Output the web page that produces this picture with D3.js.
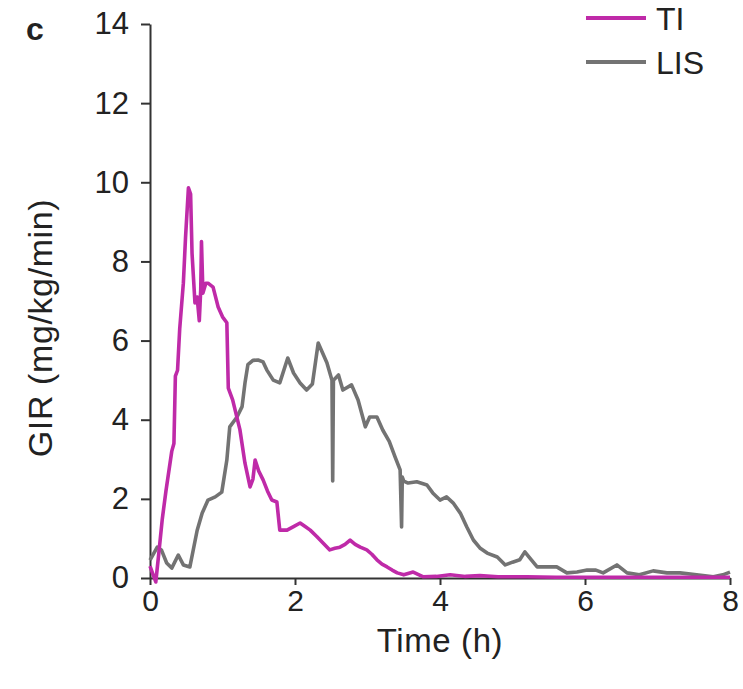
<!DOCTYPE html>
<html>
<head>
<meta charset="utf-8">
<script src="https://cdn.jsdelivr.net/npm/d3@7"></script>
<style>
  body { margin: 0; background: #fff; }
  text { font-family: "Liberation Sans", Arial, sans-serif; fill: #222; }
  .axis path, .axis line { stroke: #333; stroke-width: 2; }
</style>
</head>
<body>
<div id="chart"></div>
<script>
// Time (h) and GIR (mg/kg/min)
const tiTime = [0, 0.04, 0.08, 0.12, 0.17, 0.22, 0.3, 0.33, 0.35, 0.38, 0.41, 0.46, 0.49, 0.53, 0.56, 0.58, 0.62, 0.65, 0.68, 0.7, 0.71, 0.73, 0.77, 0.8, 0.87, 0.94, 1.0, 1.06, 1.08, 1.14, 1.24, 1.31, 1.38, 1.42, 1.45, 1.5, 1.56, 1.62, 1.68, 1.75, 1.79, 1.89, 1.98, 2.07, 2.14, 2.21, 2.3, 2.39, 2.48, 2.55, 2.62, 2.69, 2.76, 2.83, 2.9, 2.99, 3.06, 3.13, 3.2, 3.27, 3.34, 3.41, 3.5, 3.63, 3.77, 3.95, 4.14, 4.35, 4.55, 4.8, 5.2, 5.6, 6.0, 6.5, 7.0, 7.5, 8.0];
const tiGir  = [0.3, 0.1, -0.1, 0.6, 1.5, 2.2, 3.2, 3.4, 5.1, 5.25, 6.3, 7.45, 8.6, 9.86, 9.7, 8.2, 6.95, 7.1, 6.5, 7.3, 8.5, 7.2, 7.45, 7.45, 7.35, 6.85, 6.6, 6.45, 4.8, 4.5, 3.75, 2.9, 2.3, 2.5, 2.98, 2.7, 2.48, 2.2, 1.97, 1.92, 1.21, 1.21, 1.3, 1.39, 1.3, 1.21, 1.05, 0.88, 0.71, 0.75, 0.78, 0.85, 0.96, 0.85, 0.78, 0.71, 0.6, 0.46, 0.35, 0.28, 0.2, 0.13, 0.08, 0.15, 0.03, 0.04, 0.08, 0.04, 0.06, 0.03, 0.03, 0.02, 0.02, 0.02, 0.02, 0.02, 0.02];

const lisTime = [0, 0.1, 0.16, 0.23, 0.3, 0.39, 0.46, 0.55, 0.65, 0.72, 0.8, 0.9, 0.99, 1.06, 1.1, 1.2, 1.27, 1.31, 1.35, 1.42, 1.49, 1.56, 1.61, 1.7, 1.79, 1.9, 1.98, 2.07, 2.16, 2.24, 2.32, 2.44, 2.51, 2.52, 2.53, 2.6, 2.66, 2.78, 2.87, 2.97, 3.03, 3.13, 3.21, 3.3, 3.38, 3.45, 3.47, 3.48, 3.5, 3.56, 3.68, 3.82, 3.9, 4.0, 4.09, 4.18, 4.28, 4.37, 4.46, 4.55, 4.65, 4.79, 4.9, 5.0, 5.1, 5.17, 5.24, 5.34, 5.48, 5.61, 5.75, 5.89, 6.03, 6.15, 6.25, 6.44, 6.58, 6.75, 6.94, 7.13, 7.31, 7.54, 7.77, 7.9, 8.0];
const lisGir  = [0.45, 0.78, 0.7, 0.38, 0.25, 0.58, 0.33, 0.28, 1.2, 1.64, 1.97, 2.05, 2.17, 2.98, 3.82, 4.07, 4.33, 4.93, 5.39, 5.5, 5.51, 5.46, 5.26, 5.0, 4.93, 5.56, 5.18, 4.93, 4.75, 4.9, 5.94, 5.44, 5.0, 2.45, 5.0, 5.13, 4.75, 4.88, 4.5, 3.82, 4.07, 4.07, 3.74, 3.45, 3.06, 2.73, 1.29, 2.55, 2.45, 2.4, 2.43, 2.35, 2.15, 1.97, 2.05, 1.9, 1.64, 1.29, 0.96, 0.76, 0.63, 0.53, 0.33, 0.4, 0.46, 0.66, 0.5, 0.28, 0.28, 0.28, 0.13, 0.15, 0.2, 0.2, 0.13, 0.33, 0.13, 0.08, 0.18, 0.13, 0.13, 0.08, 0.03, 0.08, 0.15];

const xTicks = [0, 2, 4, 6, 8];
const yTicks = [0, 2, 4, 6, 8, 10, 12, 14];
const seriesNames = ["TI", "LIS"];
const seriesColors = ["#bf2aa8", "#737373"];

const width = 743, height = 689;
const margin = {top: 24, right: 13, bottom: 111, left: 150};

const svg = d3.select("#chart").append("svg")
	.attr("width", width)
	.attr("height", height);

const x = d3.scaleLinear().domain([0, 8]).range([margin.left, width - margin.right]);
const y = d3.scaleLinear().domain([0, 14]).range([height - margin.bottom, margin.top]);

// axes
svg.append("g")
	.attr("class", "axis")
	.attr("transform", "translate(0," + y(0) + ")")
	.call(d3.axisBottom(x).tickValues(xTicks).tickSize(7).tickSizeOuter(0).tickPadding(5))
	.call(g => g.selectAll("text").style("font-size", "30px"));

svg.append("g")
	.attr("class", "axis")
	.attr("transform", "translate(" + x(0) + ",0)")
	.call(d3.axisLeft(y).tickValues(yTicks).tickSize(9).tickSizeOuter(0).tickPadding(12))
	.call(g => g.selectAll("text").style("font-size", "31px"));

// lines
const series = [
	tiTime.map((t, i) => ({x: t, y: tiGir[i]})),
	lisTime.map((t, i) => ({x: t, y: lisGir[i]}))
];
const line = d3.line().x(d => x(d.x)).y(d => y(d.y));

// draw LIS first so TI sits on top near the baseline
[1, 0].forEach(i => {
	svg.append("path")
		.datum(series[i])
		.attr("fill", "none")
		.attr("stroke", seriesColors[i])
		.attr("stroke-width", 3.6)
		.attr("stroke-linejoin", "round")
		.attr("d", line);
});

// axis titles
svg.append("text")
	.attr("x", 440).attr("y", 652)
	.attr("text-anchor", "middle")
	.style("font-size", "33px")
	.style("letter-spacing", "0.6px")
	.text("Time (h)");

svg.append("text")
	.attr("transform", "translate(52," + 328 + ") rotate(-90)")
	.attr("text-anchor", "middle")
	.style("font-size", "34px")
	.style("letter-spacing", "0.6px")
	.text("GIR (mg/kg/min)");

// panel letter
svg.append("text")
	.attr("x", 26).attr("y", 40)
	.style("font-size", "32px")
	.style("font-weight", "bold")
	.text("c");

// legend
const legend = svg.append("g");
seriesNames.forEach((name, i) => {
	const ly = 18 + i * 44;
	legend.append("line")
		.attr("x1", 586).attr("x2", 646)
		.attr("y1", ly).attr("y2", ly)
		.attr("stroke", seriesColors[i])
		.attr("stroke-width", 4);
	legend.append("text")
		.attr("x", 656).attr("y", ly + 12)
		.style("font-size", "32px")
		.text(name);
});
</script>
</body>
</html>
